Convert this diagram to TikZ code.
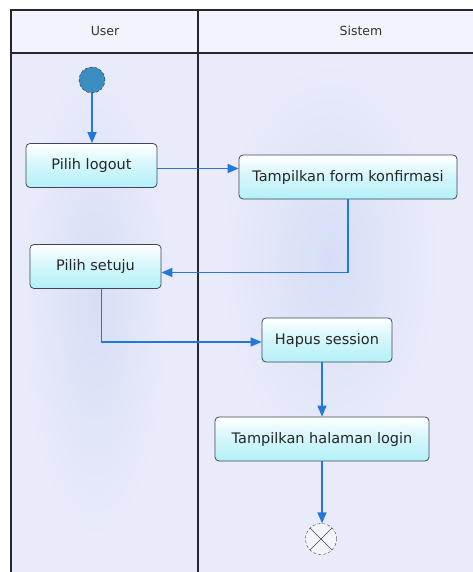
\documentclass[tikz,border=0pt]{standalone}
\usepackage{fontspec}
\setmainfont{DejaVu Sans}
\usetikzlibrary{arrows.meta}
\definecolor{lanebg}{HTML}{E9EBFA}
\definecolor{laneglow}{HTML}{D6DEF6}
\definecolor{laneline}{HTML}{26262E}
\definecolor{boxline}{HTML}{3E4850}
\definecolor{boxcyan}{HTML}{B4F0F8}
\definecolor{flowblue}{HTML}{2278D8}
\definecolor{startblue}{HTML}{3A8EC2}
\tikzset{
  action/.style={draw=boxline, line width=0.8pt, rounded corners=4pt, top color=white, bottom color=boxcyan,
    middle color=boxcyan!60!white, minimum height=44pt, inner sep=0pt, text=black!85,
    font=\fontsize{14.5}{16}\selectfont},
  flow/.style={draw=flowblue, line width=1.5pt, -{Triangle[length=11pt,width=9pt]}},
  lane/.style={draw=laneline, line width=1.8pt},
  lanehead/.style={text=black!80, font=\fontsize{12.5}{14}\selectfont}
}
\begin{document}
\begin{tikzpicture}[x=1pt, y=-1pt]
\useasboundingbox (0,0) rectangle (473,572);
% swimlanes
\fill[white] (0,0) rectangle (473,572);
\fill[lanebg] (11,10) rectangle (473,572);
\shade[inner color=laneglow, outer color=lanebg] (95,300) ellipse (75 and 240);
\shade[inner color=laneglow, outer color=lanebg] (330,260) ellipse (110 and 200);
\fill[lanebg!60!white] (11,10) rectangle (473,53);
\draw[lane] (473,10) -- (11,10) -- (11,572);
\draw[lane] (198,10) -- (198,572);
\draw[lane] (11,53) -- (473,53);
\node[lanehead] (user) at (105,31) {User};
\node[lanehead] (sistem) at (361,31) {Sistem};
% activity nodes
\node[circle, draw=laneline, densely dashed, fill=startblue, minimum size=26pt, inner sep=0pt] (start) at (92,80) {};
\node[action, minimum width=131pt] (logout) at (91.5,165.5) {Pilih logout};
\node[action, minimum width=218pt] (form) at (348,177) {Tampilkan form konfirmasi};
\node[action, minimum width=131pt] (setuju) at (95.5,266.5) {Pilih setuju};
\node[action, minimum width=130pt] (hapus) at (327,340) {Hapus session};
\node[action, minimum width=214pt] (halaman) at (322,439) {Tampilkan halaman login};
\node[circle, draw=boxline, densely dashed, fill=lanebg!50!white, minimum size=31pt, inner sep=0pt] (stop) at (321,539) {};
\draw[boxline] (stop.north west) -- (stop.south east);
\draw[boxline] (stop.north east) -- (stop.south west);
% flows
\draw[flow] (start) -- (start |- logout.north);
\draw[flow] ([yshift=-3pt]logout.east) -- ([yshift=-3pt]logout.east -| form.west);
\draw[flow] (form.south) |- ([yshift=-6pt]setuju.east);
\draw[flow] ([xshift=6pt]setuju.south) |- ([yshift=-2pt]hapus.west);
\draw[flow] (halaman |- hapus.south) -- (halaman.north);
\draw[flow] (halaman.south) -- (halaman.south |- stop.north);
\end{tikzpicture}
\end{document}
